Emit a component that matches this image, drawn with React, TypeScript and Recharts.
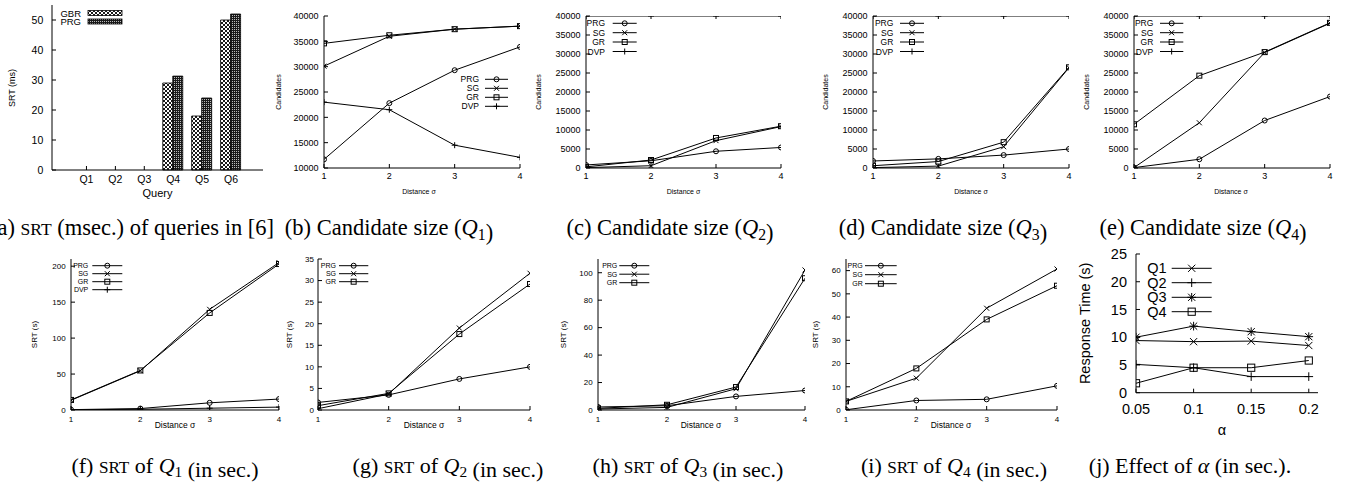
import React from 'react';
import { BarChart, Bar, LineChart, Line, XAxis, YAxis, Legend } from 'recharts';

// (a) SRT in ms for the queries of [6]
const queries = ['Q1', 'Q2', 'Q3', 'Q4', 'Q5', 'Q6'];
const srtGbr = [0, 0, 0, 29, 18, 50];
const srtPrg = [0, 0, 0, 31.3, 24, 52];
const srtMsTicks = [0, 10, 20, 30, 40, 50];

// distance sigma on the x axis of (b)-(i)
const sigmas = [1, 2, 3, 4];

// candidate sizes
const candQ1Prg = [11700, 22800, 29300, 33900];
const candQ1Sg = [30100, 36000, 37400, 38000];
const candQ1Gr = [34600, 36200, 37400, 38000];
const candQ1Dvp = [23000, 21500, 14500, 12100];

const candQ2Prg = [800, 1900, 4400, 5400];
const candQ2Sg = [100, 600, 7200, 10900];
const candQ2Gr = [300, 2100, 7900, 11000];
const candQ2Dvp = [40000, 40000, 40000, 40000];

const candQ3Prg = [1850, 2400, 3400, 5000];
const candQ3Sg = [100, 500, 5600, 26400];
const candQ3Gr = [600, 1700, 6800, 26500];
const candQ3Dvp = [40000, 40000, 40000, 40000];

const candQ4Prg = [100, 2300, 12500, 18800];
const candQ4Sg = [100, 11900, 30400, 38100];
const candQ4Gr = [11500, 24300, 30500, 38200];
const candQ4Dvp = [40000, 40000, 40000, 40000];

const candTicksQ1 = [10000, 15000, 20000, 25000, 30000, 35000, 40000];
const candTicks = [0, 5000, 10000, 15000, 20000, 25000, 30000, 35000, 40000];

// SRT in seconds
const srtQ1Prg = [0.5, 2, 10, 15.2];
const srtQ1Sg = [13.5, 54.5, 140, 205];
const srtQ1Gr = [14, 55, 135, 203];
const srtQ1Dvp = [0.3, 1, 2.5, 4];

const srtQ2Prg = [1.75, 3.5, 7.2, 10];
const srtQ2Sg = [0.3, 3.7, 19, 31.7];
const srtQ2Gr = [1.0, 3.85, 17.6, 29.2];

const srtQ3Prg = [2.2, 3.1, 9.9, 14.2];
const srtQ3Sg = [0.7, 1.9, 15.5, 102];
const srtQ3Gr = [1.2, 3.8, 16.7, 96];

const srtQ4Prg = [0.1, 4.1, 4.6, 10.4];
const srtQ4Sg = [3.7, 13.7, 43.8, 60.7];
const srtQ4Gr = [3.7, 17.9, 39, 53.5];

const srtQ1Ticks = [0, 50, 100, 150, 200];
const srtQ2Ticks = [0, 5, 10, 15, 20, 25, 30, 35];
const srtQ3Ticks = [0, 20, 40, 60, 80, 100];
const srtQ4Ticks = [0, 10, 20, 30, 40, 50, 60];

// (j) effect of alpha
const alphas = [0.05, 0.1, 0.15, 0.2];
const alphaQ1 = [9.4, 9.2, 9.3, 8.5];
const alphaQ2 = [5.1, 4.5, 2.9, 2.9];
const alphaQ3 = [10.0, 12.0, 11.0, 10.1];
const alphaQ4 = [1.7, 4.5, 4.5, 5.8];
const alphaTicks = [0, 5, 10, 15, 20, 25];

const SANS = "'Liberation Sans', Arial, Helvetica, sans-serif";
const SERIF = "'Liberation Serif', 'Times New Roman', serif";

// room around each plot box inside its chart
const PAD_L = 70;
const PAD_R = 10;
const PAD_T = 10;
const PAD_B = 50;
const Y_AXIS_W = 40;
const X_AXIS_H = 30;

type Mark = 'circle' | 'cross' | 'square' | 'plus' | 'star';
type Series = { key: string; name: string; values: number[]; mark: Mark };
type Box = { x0: number; y0: number; x1: number; y1: number };
type LegendCfg = { textRight: number; lineX0: number; lineX1: number; rows: number[]; size: number };
type PanelCfg = {
  id: string;
  box: Box;
  xs: number[];
  xDomain: [number, number];
  xTicks: number[];
  yDomain: [number, number];
  yTicks: number[];
  series: Series[];
  tickSize: number;
  xTickMargin: number;
  yTickMargin: number;
  yLabel: string;
  yLabelX: number;
  yLabelSize: number;
  xLabel: string;
  xLabelX: number;
  xLabelY: number;
  xLabelSize: number;
  markR: number;
  legend: LegendCfg;
};

function MarkShape({ kind, cx, cy, r }: { kind: Mark; cx: number; cy: number; r: number }) {
  if (cx == null || cy == null || Number.isNaN(cx) || Number.isNaN(cy)) return null;
  const st = { stroke: '#000', strokeWidth: 1, fill: 'none' };
  if (kind === 'circle') return <circle cx={cx} cy={cy} r={r} {...st} />;
  if (kind === 'square') return <rect x={cx - r} y={cy - r} width={2 * r} height={2 * r} {...st} />;
  const x = `M${cx - r},${cy - r}L${cx + r},${cy + r}M${cx - r},${cy + r}L${cx + r},${cy - r}`;
  const q = r * 1.2;
  const p = `M${cx - q},${cy}L${cx + q},${cy}M${cx},${cy - q}L${cx},${cy + q}`;
  if (kind === 'cross') return <path d={x} {...st} />;
  if (kind === 'plus') return <path d={p} {...st} />;
  return <path d={x + p} {...st} />;
}

function vText(txt: string, x: number, y: number, size: number) {
  return (
    <text x={x} y={y} transform={`rotate(-90 ${x} ${y})`} textAnchor="middle" dominantBaseline="central"
      fontSize={size} fontFamily={SANS} fill="#000">{txt}</text>
  );
}

function hText(txt: string, x: number, y: number, size: number) {
  return (
    <text x={x} y={y} textAnchor="middle" dominantBaseline="central" fontSize={size} fontFamily={SANS} fill="#000">{txt}</text>
  );
}

const axisLine = { stroke: '#000', strokeWidth: 1 };

function LinePanel({ p }: { p: PanelCfg }) {
  const { x0, y0, x1, y1 } = p.box;
  const left = x0 - PAD_L;
  const top = y0 - PAD_T;
  const width = x1 - x0 + PAD_L + PAD_R;
  const height = y1 - y0 + PAD_T + PAD_B;
  const rows = p.xs.map((x, i) => {
    const r: Record<string, number> = { x };
    p.series.forEach((s) => (r[s.key] = s.values[i]));
    return r;
  });
  const tick = { fontSize: p.tickSize, fill: '#000', fontFamily: SANS };
  const lg = p.legend;
  const midY = (y0 + y1) / 2 - top;
  return (
    <div style={{ position: 'absolute', left, top }}>
      <LineChart width={width} height={height} data={rows}
        margin={{ top: PAD_T, right: PAD_R, bottom: PAD_B - X_AXIS_H, left: PAD_L - Y_AXIS_W }}>
        <XAxis dataKey="x" type="number" domain={p.xDomain} ticks={p.xTicks} interval={0} allowDataOverflow
          height={X_AXIS_H} stroke="#000" axisLine={axisLine} tickLine={axisLine} tickSize={-4}
          tickMargin={p.xTickMargin} tick={tick}
          label={() => hText(p.xLabel, p.xLabelX - left, p.xLabelY - top, p.xLabelSize)} />
        <XAxis xAxisId="top" orientation="top" dataKey="x" type="number" domain={p.xDomain} ticks={p.xTicks}
          interval={0} allowDataOverflow height={0} stroke="#000" axisLine={axisLine} tickLine={axisLine}
          tickSize={-4} tick={false} />
        <YAxis type="number" domain={p.yDomain} ticks={p.yTicks} interval={0} allowDataOverflow width={Y_AXIS_W}
          stroke="#000" axisLine={axisLine} tickLine={axisLine} tickSize={-4} tickMargin={p.yTickMargin} tick={tick}
          label={() => vText(p.yLabel, p.yLabelX - left, midY, p.yLabelSize)} />
        <YAxis yAxisId="right" orientation="right" type="number" domain={p.yDomain} ticks={p.yTicks} interval={0}
          allowDataOverflow width={0} stroke="#000" axisLine={axisLine} tickLine={axisLine} tickSize={-4} tick={false} />
        {p.series.map((s) => (
          <Line key={s.key} dataKey={s.key} name={s.name} type="linear" stroke="#000" strokeWidth={1}
            activeDot={false} isAnimationActive={false}
            dot={(d: any) => <MarkShape key={`${s.key}-${d.index}`} kind={s.mark} cx={d.cx} cy={d.cy} r={p.markR} />} />
        ))}
        <Legend layout="vertical" align="center" verticalAlign="middle"
          wrapperStyle={{ left: 0, top: 0, width, height, pointerEvents: 'none' }}
          content={() => (
            <svg width={width} height={height} style={{ position: 'absolute', left: 0, top: 0 }}>
              {p.series.map((s, i) => {
                const ly = lg.rows[i] - top;
                return (
                  <g key={s.key}>
                    <text x={lg.textRight - left} y={ly} textAnchor="end" dominantBaseline="central"
                      fontSize={lg.size} fontFamily={SANS} fill="#000">{s.name}</text>
                    <line x1={lg.lineX0 - left} x2={lg.lineX1 - left} y1={ly} y2={ly} stroke="#000" strokeWidth={1} />
                    <MarkShape kind={s.mark} cx={(lg.lineX0 + lg.lineX1) / 2 - left} cy={ly} r={p.markR} />
                  </g>
                );
              })}
            </svg>
          )} />
      </LineChart>
    </div>
  );
}

function BarPanel() {
  const box = { x0: 52, y0: 5, x1: 263, y1: 170 };
  const left = box.x0 - PAD_L;
  const top = box.y0 - PAD_T;
  const width = box.x1 - box.x0 + PAD_L + PAD_R;
  const height = box.y1 - box.y0 + PAD_T + PAD_B;
  const rows = queries.map((q, i) => ({ q, GBR: srtGbr[i], PRG: srtPrg[i] }));
  const pad = { left: 20, right: 17.5 };
  const tick = { fontSize: 10.5, fill: '#000', fontFamily: SANS };
  const legendRows = [
    { name: 'GBR', fill: 'url(#gbrFill)', y: 13 },
    { name: 'PRG', fill: 'url(#prgFill)', y: 21.5 },
  ];
  return (
    <div style={{ position: 'absolute', left, top }}>
      <BarChart width={width} height={height} data={rows} barGap={0}
        margin={{ top: PAD_T, right: PAD_R, bottom: PAD_B - X_AXIS_H, left: PAD_L - Y_AXIS_W }}>
        <XAxis dataKey="q" padding={pad} interval={0} height={X_AXIS_H} stroke="#000" axisLine={axisLine}
          tickLine={axisLine} tickSize={-4} tickMargin={10} tick={tick}
          label={() => hText('Query', 157.5 - left, 193 - top, 11)} />
        <XAxis xAxisId="top" orientation="top" dataKey="q" padding={pad} interval={0} height={0} stroke="#000"
          axisLine={axisLine} tickLine={axisLine} tickSize={-4} tick={false} />
        <YAxis type="number" domain={[0, 55]} ticks={srtMsTicks} interval={0} width={Y_AXIS_W} stroke="#000"
          axisLine={axisLine} tickLine={axisLine} tickSize={-4} tickMargin={12.7} tick={tick}
          label={() => vText('SRT (ms)', 12 - left, 88 - top, 9)} />
        <YAxis yAxisId="right" orientation="right" type="number" domain={[0, 55]} ticks={srtMsTicks} interval={0}
          width={0} stroke="#000" axisLine={axisLine} tickLine={axisLine} tickSize={-4} tick={false} />
        <Bar dataKey="GBR" name="GBR" barSize={10} fill="url(#gbrFill)" stroke="#000" strokeWidth={0.8}
          isAnimationActive={false} />
        <Bar dataKey="PRG" name="PRG" barSize={10} fill="url(#prgFill)" stroke="#000" strokeWidth={0.8}
          isAnimationActive={false} />
        <Legend layout="vertical" align="center" verticalAlign="middle"
          wrapperStyle={{ left: 0, top: 0, width, height, pointerEvents: 'none' }}
          content={() => (
            <svg width={width} height={height} style={{ position: 'absolute', left: 0, top: 0 }}>
              {legendRows.map((r) => (
                <g key={r.name}>
                  <text x={81 - left} y={r.y - top} textAnchor="end" dominantBaseline="central" fontSize={9.5}
                    fontFamily={SANS} fill="#000">{r.name}</text>
                  <rect x={88 - left} y={r.y - top - 2.5} width={34} height={5} fill={r.fill} stroke="#000"
                    strokeWidth={0.8} />
                </g>
              ))}
            </svg>
          )} />
      </BarChart>
    </div>
  );
}

const cand = (prg: number[], sg: number[], gr: number[], dvp: number[]): Series[] => [
  { key: 'prg', name: 'PRG', values: prg, mark: 'circle' },
  { key: 'sg', name: 'SG', values: sg, mark: 'cross' },
  { key: 'gr', name: 'GR', values: gr, mark: 'square' },
  { key: 'dvp', name: 'DVP', values: dvp, mark: 'plus' },
];
const srt3 = (prg: number[], sg: number[], gr: number[]): Series[] => [
  { key: 'prg', name: 'PRG', values: prg, mark: 'circle' },
  { key: 'sg', name: 'SG', values: sg, mark: 'cross' },
  { key: 'gr', name: 'GR', values: gr, mark: 'square' },
];

const topCommon = {
  xs: sigmas, xDomain: [1, 4] as [number, number], xTicks: sigmas,
  tickSize: 9, xTickMargin: 9, yTickMargin: 9.5,
  yLabel: 'Candidates', yLabelSize: 7, xLabel: 'Distance σ', xLabelY: 191.7, xLabelSize: 7, markR: 2.5,
};
const topRows = [23.3, 32.7, 42, 51.5];
const botCommon = {
  xs: sigmas, xDomain: [1, 4] as [number, number], xTicks: sigmas,
  tickSize: 8, xTickMargin: 10, yTickMargin: 9.3,
  yLabel: 'SRT (s)', yLabelSize: 8, xLabel: 'Distance σ', xLabelY: 425, xLabelSize: 8.5, markR: 2.5,
};

const panels: PanelCfg[] = [
  {
    ...topCommon, id: 'b', box: { x0: 324, y0: 16, x1: 520, y1: 168 }, yDomain: [10000, 40000], yTicks: candTicksQ1,
    series: cand(candQ1Prg, candQ1Sg, candQ1Gr, candQ1Dvp), yLabelX: 278, xLabelX: 419,
    legend: { textRight: 479, lineX0: 485, lineX1: 508, rows: [79.3, 88.3, 97.3, 106.3], size: 8.5 },
  },
  {
    ...topCommon, id: 'c', box: { x0: 586, y0: 16, x1: 781, y1: 168 }, yDomain: [0, 40000], yTicks: candTicks,
    series: cand(candQ2Prg, candQ2Sg, candQ2Gr, candQ2Dvp), yLabelX: 538, xLabelX: 683.5,
    legend: { textRight: 605, lineX0: 612.7, lineX1: 636.7, rows: topRows, size: 8.5 },
  },
  {
    ...topCommon, id: 'd', box: { x0: 873, y0: 16, x1: 1069, y1: 168 }, yDomain: [0, 40000], yTicks: candTicks,
    series: cand(candQ3Prg, candQ3Sg, candQ3Gr, candQ3Dvp), yLabelX: 825, xLabelX: 971,
    legend: { textRight: 893.3, lineX0: 900, lineX1: 924, rows: topRows, size: 8.5 },
  },
  {
    ...topCommon, id: 'e', box: { x0: 1134, y0: 16, x1: 1330, y1: 168 }, yDomain: [0, 40000], yTicks: candTicks,
    series: cand(candQ4Prg, candQ4Sg, candQ4Gr, candQ4Dvp), yLabelX: 1086.7, xLabelX: 1231,
    legend: { textRight: 1153.3, lineX0: 1160, lineX1: 1183.3, rows: topRows, size: 8.5 },
  },
  {
    ...botCommon, id: 'f', box: { x0: 71, y0: 259.3, x1: 279, y1: 410.3 }, yDomain: [0, 210], yTicks: srtQ1Ticks,
    series: cand(srtQ1Prg, srtQ1Sg, srtQ1Gr, srtQ1Dvp), yLabelX: 34, xLabelX: 175,
    legend: { textRight: 88.3, lineX0: 92.3, lineX1: 122.3, rows: [266, 274, 282, 290], size: 7 },
  },
  {
    ...botCommon, id: 'g', box: { x0: 318, y0: 259.3, x1: 530, y1: 410.3 }, yDomain: [0, 35], yTicks: srtQ2Ticks,
    series: srt3(srtQ2Prg, srtQ2Sg, srtQ2Gr), yLabelX: 289, xLabelX: 424, yTickMargin: 8,
    legend: { textRight: 336, lineX0: 339, lineX1: 368.3, rows: [266, 274, 282], size: 7 },
  },
  {
    ...botCommon, id: 'h', box: { x0: 598, y0: 259.3, x1: 805, y1: 410.3 }, yDomain: [0, 110], yTicks: srtQ3Ticks,
    series: srt3(srtQ3Prg, srtQ3Sg, srtQ3Gr), yLabelX: 563, xLabelX: 701,
    legend: { textRight: 617.3, lineX0: 619.3, lineX1: 649.3, rows: [266, 274.5, 283], size: 7 },
  },
  {
    ...botCommon, id: 'i', box: { x0: 846, y0: 259.3, x1: 1057, y1: 410.3 }, yDomain: [0, 65], yTicks: srtQ4Ticks,
    series: srt3(srtQ4Prg, srtQ4Sg, srtQ4Gr), yLabelX: 815, xLabelX: 951,
    legend: { textRight: 862.7, lineX0: 865, lineX1: 896.7, rows: [266, 275, 284], size: 7 },
  },
  {
    id: 'j', box: { x0: 1136, y0: 254, x1: 1318, y1: 392.7 }, xs: alphas, xDomain: [0.05, 0.208], xTicks: alphas,
    yDomain: [0, 25], yTicks: alphaTicks,
    series: [
      { key: 'q1', name: 'Q1', values: alphaQ1, mark: 'cross' },
      { key: 'q2', name: 'Q2', values: alphaQ2, mark: 'plus' },
      { key: 'q3', name: 'Q3', values: alphaQ3, mark: 'star' },
      { key: 'q4', name: 'Q4', values: alphaQ4, mark: 'square' },
    ],
    tickSize: 14.5, xTickMargin: 15, yTickMargin: 13,
    yLabel: 'Response Time (s)', yLabelX: 1085, yLabelSize: 14.5,
    xLabel: 'α', xLabelX: 1222, xLabelY: 430, xLabelSize: 14.5, markR: 3.6,
    legend: { textRight: 1166.7, lineX0: 1171.7, lineX1: 1211.7, rows: [268.3, 282.7, 297.3, 311.7], size: 14.5 },
  },
];

function Sub({ n, size }: { n: string; size: number }) {
  return (
    <>
      <tspan fontStyle="italic">Q</tspan>
      <tspan fontSize={size * 0.7} dy={size * 0.2}>{n}</tspan>
      <tspan dy={-size * 0.2}>{''}</tspan>
    </>
  );
}

function Captions() {
  const ts = 22.5;
  const bs = 22;
  const T = 235;
  const B = 473;
  const cap = (x: number, y: number, s: number, kids: React.ReactNode) => (
    <text x={x} y={y} textAnchor="middle" fontSize={s} fontFamily={SERIF} fill="#000">{kids}</text>
  );
  const sc = (s: number) => <tspan fontSize={s * 0.78}>SRT</tspan>;
  return (
    <svg width={1353} height={484} style={{ position: 'absolute', left: 0, top: 0, pointerEvents: 'none' }}>
      {cap(132, T, ts, <>(a) {sc(ts)} (msec.) of queries in [6]</>)}
      {cap(389, T, ts, <>(b) Candidate size (<Sub n="1" size={ts} />)</>)}
      {cap(670, T, ts, <>(c) Candidate size (<Sub n="2" size={ts} />)</>)}
      {cap(943, T, ts, <>(d) Candidate size (<Sub n="3" size={ts} />)</>)}
      {cap(1203, T, ts, <>(e) Candidate size (<Sub n="4" size={ts} />)</>)}
      {cap(165, B, bs, <>(f) {sc(bs)} of <Sub n="1" size={bs} /> (in sec.)</>)}
      {cap(448, B, bs, <>(g) {sc(bs)} of <Sub n="2" size={bs} /> (in sec.)</>)}
      {cap(688, B, bs, <>(h) {sc(bs)} of <Sub n="3" size={bs} /> (in sec.)</>)}
      {cap(954, B, bs, <>(i) {sc(bs)} of <Sub n="4" size={bs} /> (in sec.)</>)}
      {cap(1190, B, bs, <>(j) Effect of <tspan fontStyle="italic">α</tspan> (in sec.).</>)}
    </svg>
  );
}

export default function App() {
  return (
    <div style={{ position: 'absolute', left: 0, top: 0, width: 1353, height: 484, overflow: 'hidden', background: '#fff' }}>
      <svg width={0} height={0} style={{ position: 'absolute' }}>
        <defs>
          <pattern id="gbrFill" patternUnits="userSpaceOnUse" width={4} height={4}>
            <rect width={4} height={4} fill="#fff" />
            <path d="M0,0L4,4M0,4L4,0" stroke="#000" strokeWidth={0.9} />
          </pattern>
          <pattern id="prgFill" patternUnits="userSpaceOnUse" width={2} height={2}>
            <rect width={2} height={2} fill="#1a1a1a" />
            <rect width={1} height={1} fill="#bbb" />
          </pattern>
        </defs>
      </svg>
      <BarPanel />
      {panels.map((p) => (
        <LinePanel key={p.id} p={p} />
      ))}
      <Captions />
    </div>
  );
}
